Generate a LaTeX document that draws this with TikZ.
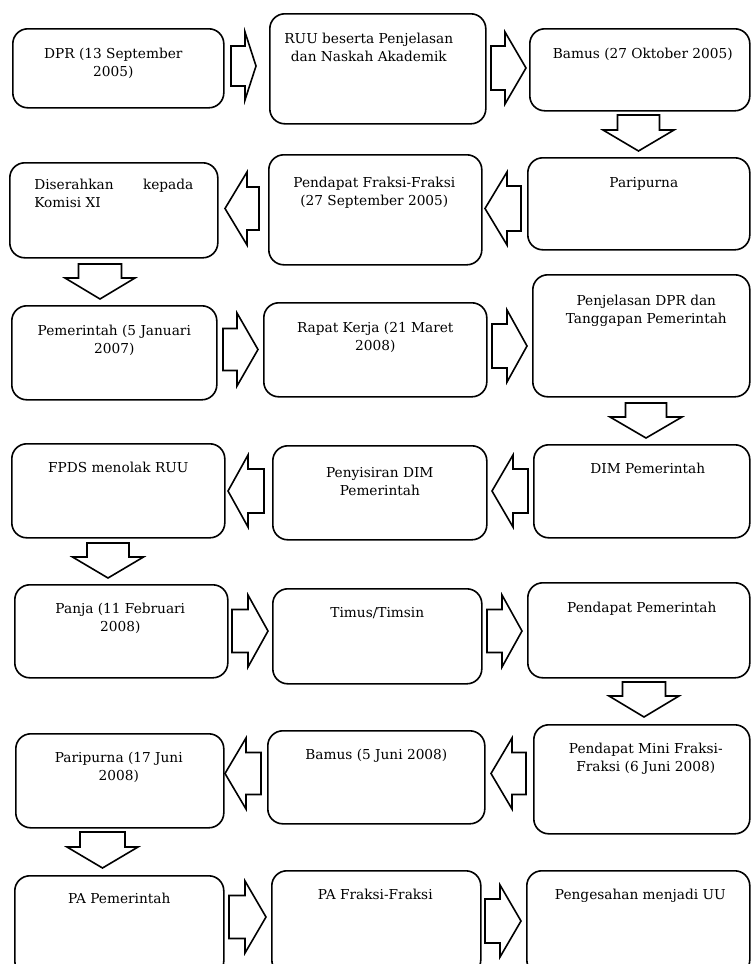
\documentclass[tikz,border=0pt]{standalone}
\usepackage{fontspec}
\setmainfont{DejaVu Serif}

% Text block of a stage: width, height, first baseline below top, horizontal shift, lines
\makeatletter
\newcommand\stagetext[5]{%
  \parbox[c][#2][t]{#1}{\centering
    \rightskip=\dimexpr-2\dimexpr#4\relax\relax plus 1fil
    \rule{0pt}{#3}#5\par}}
\makeatother

% Block arrows: right (tail x, head base x, tip x, centre y, shaft half, head half)
\newcommand\arrR[6]{\draw[blockarrow] (#1,#4-#5) -- (#2,#4-#5) -- (#2,#4-#6) -- (#3,#4)
  -- (#2,#4+#6) -- (#2,#4+#5) -- (#1,#4+#5) -- cycle;}
% left (tip x, head base x, tail x, centre y, shaft half, head half)
\newcommand\arrL[6]{\draw[blockarrow] (#3,#4-#5) -- (#2,#4-#5) -- (#2,#4-#6) -- (#1,#4)
  -- (#2,#4+#6) -- (#2,#4+#5) -- (#3,#4+#5) -- cycle;}
% down (centre x, tail y, head base y, tip y, shaft half, head half)
\newcommand\arrD[6]{\draw[blockarrow] (#1-#5,#2) -- (#1+#5,#2) -- (#1+#5,#3) -- (#1+#6,#3)
  -- (#1,#4) -- (#1-#6,#3) -- (#1-#5,#3) -- cycle;}

\tikzset{
  stage/.style={draw, line width=1.6pt, rounded corners=15pt, inner sep=0pt,
    anchor=north west, font=\fontsize{13.7pt}{17.6pt}\selectfont},
  blockarrow/.style={draw, line width=1.6pt, line join=miter, fill=white},
}

\begin{document}
\begin{tikzpicture}[x=1pt,y=-1pt]
\useasboundingbox (0,0) rectangle (751,964);
\clip (0,0) rectangle (751,964);

% row 1
\node[stage] (A) at (12,28)  {\stagetext{211pt}{79pt}{30pt}{-5pt}{DPR (13 September\\2005)}};
\node[stage] (B) at (269,13) {\stagetext{216pt}{110pt}{30pt}{-9pt}{RUU beserta Penjelasan\\dan Naskah Akademik}};
\node[stage] (C) at (529,28) {\stagetext{220pt}{82pt}{30pt}{3pt}{Bamus (27 Oktober 2005)}};
% row 2
\node[stage] (D) at (527,157) {\stagetext{222pt}{92pt}{30pt}{5pt}{Paripurna}};
\node[stage] (E) at (268,154) {\stagetext{213pt}{110pt}{33pt}{-1pt}{Pendapat Fraksi-Fraksi\\(27 September 2005)}};
\node[stage] (F) at (9,162)   {\stagetext{208pt}{95pt}{27pt}{0pt}{\makebox[159pt][s]{Diserahkan kepada}\\\makebox[159pt][l]{Komisi XI}}};
% row 3
\node[stage] (G) at (11,305)  {\stagetext{205pt}{94pt}{30pt}{0pt}{Pemerintah (5 Januari\\2007)}};
\node[stage] (H) at (263,302) {\stagetext{223pt}{94pt}{30pt}{0pt}{Rapat Kerja (21 Maret\\2008)}};
\node[stage] (I) at (532,274) {\stagetext{217pt}{122pt}{31pt}{5pt}{Penjelasan DPR dan\\Tanggapan Pemerintah}};
% row 4
\node[stage] (J) at (533,444) {\stagetext{216pt}{93pt}{29pt}{6pt}{DIM Pemerintah}};
\node[stage] (K) at (272,445) {\stagetext{214pt}{94pt}{32pt}{0pt}{Penyisiran DIM\\Pemerintah}};
\node[stage] (L) at (11,443)  {\stagetext{213pt}{94pt}{29pt}{0pt}{FPDS menolak RUU}};
% row 5
\node[stage] (M) at (14,584)  {\stagetext{213pt}{93pt}{29pt}{-1pt}{Panja (11 Februari\\2008)}};
\node[stage] (N) at (272,588) {\stagetext{209pt}{95pt}{29pt}{0pt}{Timus/Timsin}};
\node[stage] (O) at (527,582) {\stagetext{222pt}{95pt}{30pt}{3pt}{Pendapat Pemerintah}};
% row 6
\node[stage] (P) at (533,724) {\stagetext{216pt}{109pt}{29pt}{4pt}{Pendapat Mini Fraksi-\\Fraksi (6 Juni 2008)}};
\node[stage] (Q) at (267,730) {\stagetext{217pt}{93pt}{29pt}{0pt}{Bamus (5 Juni 2008)}};
\node[stage] (R) at (15,733)  {\stagetext{208pt}{94pt}{29pt}{-1pt}{Paripurna (17 Juni\\2008)}};
% row 7
\node[stage] (S) at (14,875)  {\stagetext{209pt}{100pt}{28pt}{0pt}{PA Pemerintah}};
\node[stage] (T) at (271,870) {\stagetext{209pt}{104pt}{29pt}{-1pt}{PA Fraksi-Fraksi}};
\node[stage] (U) at (526,870) {\stagetext{223pt}{104pt}{29pt}{2pt}{Pengesahan menjadi UU}};

% flow arrows
\arrR{231}{245}{256}{66}{20}{34}
\arrR{491}{505}{526}{68}{22}{36}
\arrD{638.5}{115}{130}{151}{21}{35.5}
\arrL{485}{507}{521}{208.5}{22.5}{36.5}
\arrL{225}{247}{259}{208.5}{21.5}{36.5}
\arrD{100}{264}{278}{299}{21.5}{35}
\arrR{223}{237}{258}{349.5}{21}{36.5}
\arrR{492}{507}{527}{346}{22}{36}
\arrD{646}{403}{417}{438}{20.5}{36}
\arrL{492}{513}{528}{491}{22}{36}
\arrL{228}{248}{264}{491}{22}{36}
\arrD{108}{543}{557}{578}{21}{35.5}
\arrR{232}{248}{268}{631}{21.5}{36}
\arrR{487}{502}{522}{631}{21.5}{36}
\arrD{644}{682}{696}{717}{21.5}{35}
\arrL{491}{512}{526}{773.5}{21}{35.5}
\arrL{225}{246}{261}{773.5}{21}{35.5}
\arrD{102.5}{832}{847}{868}{22.5}{35.5}
\arrR{229}{245}{266}{917}{21.5}{36}
\arrR{485}{500}{521}{921}{22}{36}
\end{tikzpicture}
\end{document}
